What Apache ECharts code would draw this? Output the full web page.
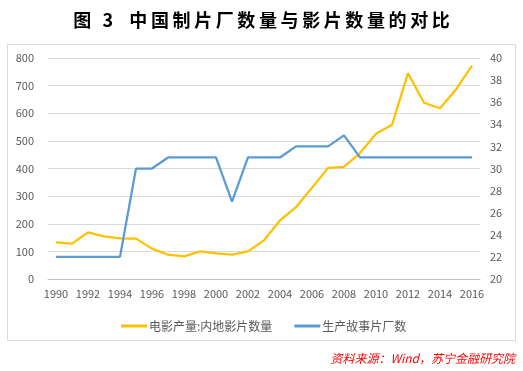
<!DOCTYPE html>
<html><head><meta charset="utf-8">
<script src="https://cdn.jsdelivr.net/npm/echarts@6/dist/echarts.min.js"></script>
<style>html,body{margin:0;padding:0;background:#fff}#c{width:523px;height:371px}</style>
</head><body><div id="c"></div>
<script>
var years = ['1990','1991','1992','1993','1994','1995','1996','1997','1998','1999','2000','2001','2002','2003','2004','2005','2006','2007','2008','2009','2010','2011','2012','2013','2014','2015','2016'];
var filmOutput = [133,128,169,154,147,146,110,88,82,100,93,88,100,140,212,260,330,402,406,456,526,558,745,638,618,686,772];
var studios = [22,22,22,22,22,30,30,31,31,31,31,27,31,31,31,32,32,32,33,31,31,31,31,31,31,31,31];
var leftTicks = [0,800,100];
var rightTicks = [20,40,2];
var seriesNames = ['电影产量:内地影片数量','生产故事片厂数'];

var chart = echarts.init(document.getElementById('c'));
var fontFam = '"Microsoft YaHei","Noto Sans CJK SC",sans-serif';
chart.setOption({
  animation:false,
  title:{text:'图 3\u2002中国制片厂数量与影片数量的对比'.split('').join('\u2009'),left:'center',top:6,
    textStyle:{fontSize:18,fontWeight:'bold',color:'#000',fontFamily:'"Noto Sans CJK SC",sans-serif'}},
  graphic:[{type:'rect',shape:{x:7.5,y:44.5,width:508,height:296},style:{fill:'none',stroke:'#d9d9d9',lineWidth:1}},
    {type:'text',right:8,top:352,style:{text:'资料来源：Wind，苏宁金融研究院',fill:'#ff0000',font:'italic 12px "Noto Sans CJK SC",sans-serif'}}],
  legend:{data:seriesNames,left:116,top:315,itemWidth:26,itemHeight:3,itemGap:22,icon:'rect',
    textStyle:{fontSize:12,color:'#595959',fontFamily:fontFam,padding:[0,0,0,-3]}},
  grid:{left:48,right:43,top:58,bottom:92},
  xAxis:{type:'category',data:years,boundaryGap:true,
    axisLine:{lineStyle:{color:'#bfbfbf'}},
    axisTick:{interval:1,length:5,lineStyle:{color:'#bfbfbf'}},
    axisLabel:{interval:1,color:'#595959',fontSize:11,margin:9,fontFamily:fontFam}},
  yAxis:[{type:'value',min:leftTicks[0],max:leftTicks[1],interval:leftTicks[2],
    axisLine:{show:false},axisTick:{show:false},
    axisLabel:{color:'#595959',fontSize:11,margin:14,fontFamily:fontFam},
    splitLine:{lineStyle:{color:'#d9d9d9'}}},
   {type:'value',min:rightTicks[0],max:rightTicks[1],interval:rightTicks[2],
    axisLine:{show:false},axisTick:{show:false},
    axisLabel:{color:'#595959',fontSize:11,margin:10,fontFamily:fontFam},
    splitLine:{show:false}}],
  series:[{name:seriesNames[0],type:'line',data:filmOutput,yAxisIndex:0,symbol:'none',
      lineStyle:{color:'#FFC000',width:2.25},itemStyle:{color:'#FFC000'}},
    {name:seriesNames[1],type:'line',data:studios,yAxisIndex:1,symbol:'none',
      lineStyle:{color:'#5B9BD5',width:2.25},itemStyle:{color:'#5B9BD5'}}]
});
</script></body></html>
